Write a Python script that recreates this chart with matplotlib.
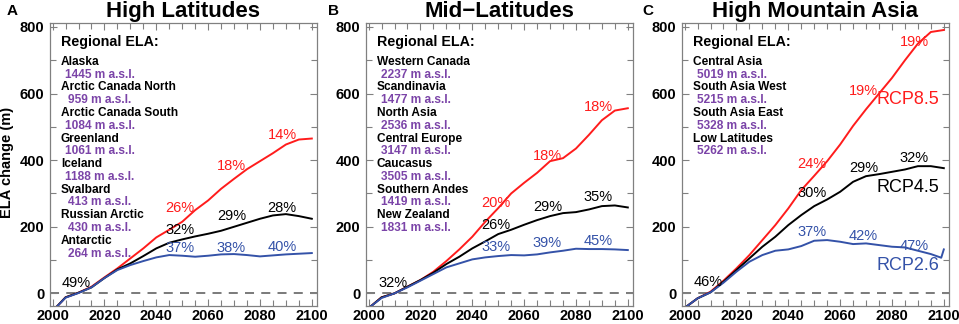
import numpy as np
import matplotlib
matplotlib.use("Agg")
import matplotlib.pyplot as plt
from matplotlib.ticker import MultipleLocator

plt.rcParams['font.family'] = ['Liberation Sans', 'DejaVu Sans']

# ---------------- data ----------------
years = [2001, 2005, 2010, 2015, 2020, 2025, 2030, 2035, 2040, 2045, 2050,
         2055, 2060, 2065, 2070, 2075, 2080, 2085, 2090, 2095, 2100]
years_c26 = years[:-1] + [2099, 2100]

hl_rcp85 = [-45, -12, 2, 20, 48, 75, 105, 135, 168, 191, 215, 250, 279, 314, 344, 373, 397, 421, 447, 462, 465]
hl_rcp45 = [-45, -12, 2, 18, 46, 72, 90, 112, 135, 152, 162, 171, 179, 188, 200, 212, 224, 234, 238, 232, 224]
hl_rcp26 = [-45, -13, 1, 18, 46, 70, 85, 97, 108, 115, 113, 110, 113, 117, 118, 115, 111, 114, 117, 119, 121]

ml_rcp85 = [-38, -12, 0, 20, 40, 65, 97, 132, 170, 215, 256, 300, 332, 362, 397, 406, 435, 476, 520, 549, 556]
ml_rcp45 = [-38, -12, 0, 20, 40, 62, 88, 110, 135, 156, 178, 191, 206, 220, 232, 241, 244, 252, 262, 264, 258]
ml_rcp26 = [-38, -14, 0, 18, 38, 58, 78, 90, 102, 108, 112, 115, 114, 117, 123, 128, 134, 133, 133, 132, 130]

hma_rcp85 = [-38, -15, 5, 38, 75, 115, 160, 205, 255, 310, 353, 397, 447, 503, 553, 600, 647, 700, 750, 785, 791]
hma_rcp45 = [-38, -15, 3, 35, 70, 105, 140, 170, 205, 235, 262, 282, 305, 335, 352, 358, 365, 372, 382, 382, 376]
hma_rcp26 = [-38, -15, 3, 32, 65, 95, 115, 128, 132, 142, 158, 160, 155, 148, 150, 145, 140, 138, 128, 118, 107, 132]

hl_regions = ["Alaska", "Arctic Canada North", "Arctic Canada South", "Greenland",
              "Iceland", "Svalbard", "Russian Arctic", "Antarctic"]
hl_ela = [1445, 959, 1084, 1061, 1188, 413, 430, 264]
ml_regions = ["Western Canada", "Scandinavia", "North Asia", "Central Europe",
              "Caucasus", "Southern Andes", "New Zealand"]
ml_ela = [2237, 1477, 2536, 3147, 3505, 1419, 1831]
hma_regions = ["Central Asia", "South Asia West", "South Asia East", "Low Latitudes"]
hma_ela = [5019, 5215, 5328, 5262]

# percentage labels: columns of (rcp8.5, rcp4.5, rcp2.6)
hl_pct = [["26%", "32%", "37%"], ["18%", "29%", "38%"], ["14%", "28%", "40%"]]
ml_pct = [["20%", "26%", "33%"], ["18%", "29%", "39%"], ["18%", "35%", "45%"]]
hma_pct = [["24%", "30%", "37%"], ["19%", "29%", "42%"], ["19%", "32%", "47%"]]
first_pct = ["49%", "32%", "46%"]

RED = '#ff1c1c'
BLACK = '#000000'
BLUE = '#3452a8'
PURPLE = '#7b44a8'
GRAY = '#808080'

fig = plt.figure(figsize=(9.59, 3.24), dpi=100)
lefts = [50 / 959, 366 / 959, 682 / 959]
w = 267 / 959
b = 18 / 324
h = 283 / 324

titles = ["High Latitudes", "Mid\u2212Latitudes", "High Mountain Asia"]
letters = ["A", "B", "C"]
letter_x = [7 / 959, 328 / 959, 642 / 959]
series = [(hl_rcp85, hl_rcp45, hl_rcp26, years),
          (ml_rcp85, ml_rcp45, ml_rcp26, years),
          (hma_rcp85, hma_rcp45, hma_rcp26, years_c26)]
regions = [(hl_regions, hl_ela), (ml_regions, ml_ela), (hma_regions, hma_ela)]
pcts = [hl_pct, ml_pct, hma_pct]

# label positions (data coords)
pct_x = [2049, 2069, 2088.5]
pct_y = [
    [(256, 191, 135), (382, 232, 135), (476, 256, 138)],
    [(270, 206, 138), (412, 259, 150), (559, 288, 156)],
    [(388, 300, 185), (608, 377, 171), (755, 406, 141)],
]
first_pos = [(2009, 30), (2009.6, 32), (2009, 35)]

for i in range(3):
    ax = fig.add_axes([lefts[i], b, w, h])
    r85, r45, r26, yrs26 = series[i]
    ax.axhline(0, color='#707070', lw=1.3, ls=(0, (5, 4)), zorder=1)
    ax.plot(years, r85, color=RED, lw=1.4, zorder=3)
    ax.plot(years, r45, color=BLACK, lw=1.4, zorder=3)
    ax.plot(yrs26, r26, color=BLUE, lw=1.4, zorder=4)
    ax.set_xlim(1999, 2102)
    ax.set_ylim(-38, 812)
    ax.xaxis.set_major_locator(MultipleLocator(20))
    ax.xaxis.set_minor_locator(MultipleLocator(5))
    ax.yaxis.set_major_locator(MultipleLocator(200))
    ax.yaxis.set_minor_locator(MultipleLocator(100))
    ax.tick_params(which='both', direction='in', top=True, right=True,
                   color=GRAY, width=0.8, labelsize=10.5)
    ax.tick_params(which='major', length=5)
    ax.tick_params(which='minor', length=4)
    ax.tick_params(axis='x', pad=2)
    ax.tick_params(axis='y', pad=4)
    for lab in ax.get_xticklabels() + ax.get_yticklabels():
        lab.set_fontweight('bold')
    for sp in ax.spines.values():
        sp.set_color(GRAY)
        sp.set_linewidth(0.9)
    ax.set_title(titles[i], fontsize=16, fontweight='bold', pad=4)
    fig.text(letter_x[i], 1 - 15 / 324, letters[i], fontsize=11, fontweight='bold')

    # regional ELA block
    ax.text(0.041, 0.933, "Regional ELA:", transform=ax.transAxes, fontsize=10.3,
            fontweight='bold', va='center', ha='left')
    names, elas = regions[i]
    for k, (nm, e) in enumerate(zip(names, elas)):
        y1 = 0.863 - 0.0452 * (2 * k)
        y2 = 0.863 - 0.0452 * (2 * k + 1)
        ax.text(0.041, y1, nm, transform=ax.transAxes, fontsize=8.6,
                fontweight='bold', va='center', ha='left')
        ax.text(0.186, y2, f"{e} m a.s.l.", transform=ax.transAxes, fontsize=8.6,
                fontweight='bold', va='center', ha='center', color=PURPLE)

    # percentage labels
    for c in range(3):
        for s, col in enumerate([RED, BLACK, BLUE]):
            ax.text(pct_x[c], pct_y[i][c][s], pcts[i][c][s], color=col,
                    fontsize=10.5, ha='center', va='center', zorder=5)
    ax.text(first_pos[i][0], first_pos[i][1], first_pct[i], color=BLACK,
            fontsize=10.5, ha='center', va='center', zorder=5)

    if i == 2:
        ax.text(2086, 582, "RCP8.5", color=RED, fontsize=13, ha='center', va='center')
        ax.text(2086, 318, "RCP4.5", color=BLACK, fontsize=13, ha='center', va='center')
        ax.text(2086, 85, "RCP2.6", color=BLUE, fontsize=13, ha='center', va='center')

fig.text(7 / 959, 0.5, "ELA change (m)", rotation=90, fontsize=10.5,
         fontweight='bold', ha='center', va='center')

fig.savefig("out.png", dpi=100)
